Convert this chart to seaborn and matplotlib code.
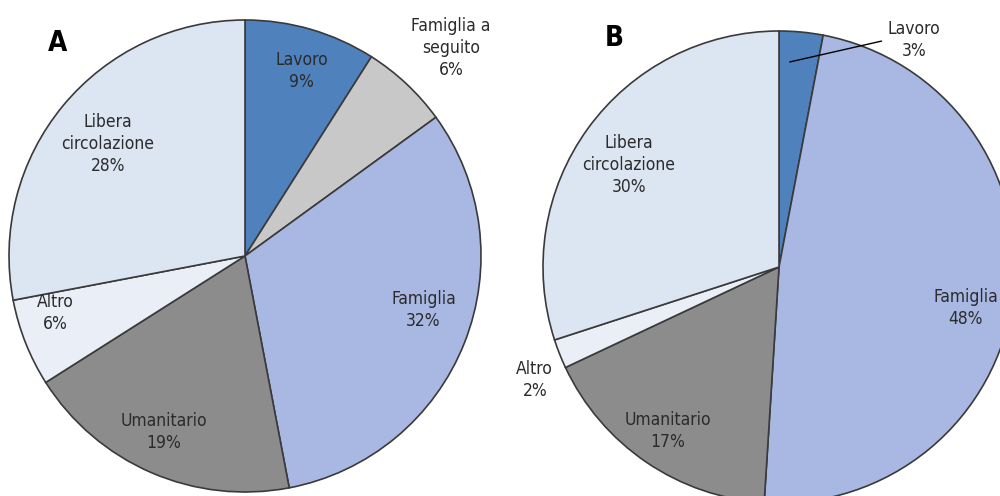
import numpy as np
import matplotlib
matplotlib.use("Agg")
import matplotlib.pyplot as plt
from matplotlib import font_manager as fm
import seaborn as sns

# --- DATA ---
labels_a = ["Lavoro", "Famiglia a\nseguito", "Famiglia", "Umanitario", "Altro", "Libera\ncircolazione"]
values_a = [9, 6, 32, 19, 6, 28]
colors_a = ["#4F81BD", "#C8C8C8", "#A9B8E2", "#8C8C8C", "#E9EEF7", "#DCE6F2"]

labels_b = ["Lavoro", "Famiglia", "Umanitario", "Altro", "Libera\ncircolazione"]
values_b = [3, 48, 17, 2, 30]
colors_b = ["#4F81BD", "#A9B8E2", "#8C8C8C", "#E9EEF7", "#DCE6F2"]

# --- LAYOUT (pixel-like data units) ---
W, H = 1000, 496
CENTER_A = (245, H - 256)
CENTER_B = (779, H - 267)
RADIUS = 236
# label placement per slice: (fraction of radius, angle offset in deg)
POS_A = [(0.82, -0.8), (1.24, -1.5), (0.79, 4.7), (0.82, -1.3), (0.84, -4.9), (0.75, 0.3)]
POS_B = [(1.12, -25.3), (0.81, -5.1), (0.84, 0.2), (1.14, 3.2), (0.77, 1.8)]
LEADER_B = {0: (0.87, 2.4)}  # slice index -> anchor inside wedge

sns.set_theme(style="white")
plt.rcParams["font.family"] = ["Liberation Sans", "DejaVu Sans"]


def find_narrow(weights):
    # look for a narrow / condensed face, like the original Arial Narrow labels
    for f in fm.fontManager.ttflist:
        is_narrow = "Narrow" in f.name or "Condensed" in f.name or f.stretch in ("condensed", "semi-condensed")
        if is_narrow and f.weight in weights and f.style == "normal":
            return f.fname
    return None


reg = find_narrow((400, "normal", "regular"))
bold = find_narrow((700, "bold"))
if reg:
    LABEL_FONT = fm.FontProperties(fname=reg, size=12.5)
else:
    LABEL_FONT = fm.FontProperties(family=["Liberation Sans", "DejaVu Sans"], size=11.5)
if bold:
    PANEL_FONT = fm.FontProperties(fname=bold, size=20)
else:
    PANEL_FONT = fm.FontProperties(family=["Liberation Sans", "DejaVu Sans"], weight="bold", size=18)

TEXT_COLOR = "#2b2b2b"
EDGE = "#3a3a3a"


def draw_pie(ax, values, colors, labels, center, positions, leaders=None):
    wedges, _ = ax.pie(values, colors=colors, startangle=90, counterclock=False,
                       center=center, radius=RADIUS,
                       wedgeprops=dict(edgecolor=EDGE, linewidth=1.2))
    cx, cy = center
    for i, (w, lab, v) in enumerate(zip(wedges, labels, values)):
        frac, dth = positions[i]
        mid = np.deg2rad((w.theta1 + w.theta2) / 2 + dth)
        tx = cx + RADIUS * frac * np.cos(mid)
        ty = cy + RADIUS * frac * np.sin(mid)
        txt = f"{lab}\n{v}%"
        if leaders and i in leaders:
            af, adth = leaders[i]
            amid = np.deg2rad((w.theta1 + w.theta2) / 2 + adth)
            ax_ = cx + RADIUS * af * np.cos(amid)
            ay_ = cy + RADIUS * af * np.sin(amid)
            ax.annotate(txt, xy=(ax_, ay_), xytext=(tx, ty), ha="center", va="center",
                        fontproperties=LABEL_FONT, color=TEXT_COLOR, linespacing=1.3,
                        arrowprops=dict(arrowstyle="-", color="black", lw=1.0,
                                        relpos=(0, 0.5), shrinkA=2, shrinkB=0))
        else:
            ax.text(tx, ty, txt, ha="center", va="center", fontproperties=LABEL_FONT,
                    color=TEXT_COLOR, linespacing=1.3)


fig = plt.figure(figsize=(10, 4.96), dpi=100)
ax = fig.add_axes([0, 0, 1, 1])

draw_pie(ax, values_a, colors_a, labels_a, CENTER_A, POS_A)
draw_pie(ax, values_b, colors_b, labels_b, CENTER_B, POS_B, LEADER_B)

ax.text(58, H - 43, "A", fontproperties=PANEL_FONT, color="black", ha="center", va="center")
ax.text(614, H - 38, "B", fontproperties=PANEL_FONT, color="black", ha="center", va="center")

ax.set_xlim(0, W)
ax.set_ylim(0, H)
ax.set_aspect("equal")
ax.axis("off")

fig.savefig("out.png", dpi=100)
plt.close(fig)
